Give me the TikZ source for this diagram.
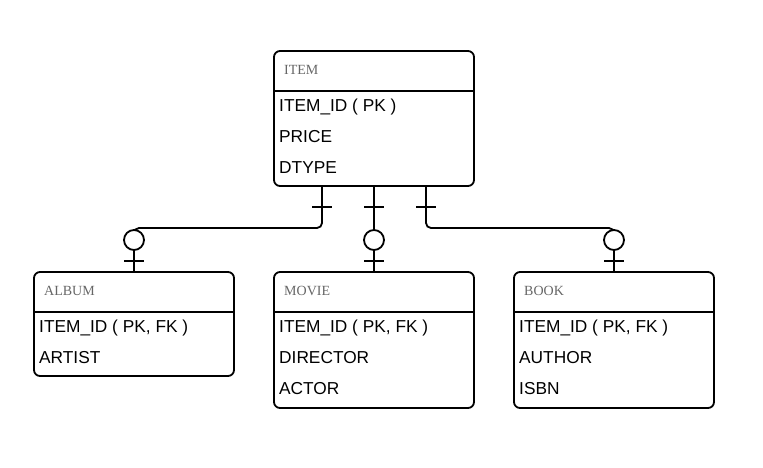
\documentclass[tikz,border=0pt]{standalone}
\usepackage{fontspec}
\setmainfont{Liberation Sans}
\newfontfamily\headfont{Liberation Serif}
\usetikzlibrary{positioning}

\begin{document}
\begin{tikzpicture}[x=1pt, y=-1pt,
  entity/.style={draw, line width=1.8pt, rounded corners=6pt, inner sep=0pt, minimum width=200pt},
  divider/.style={line width=1.8pt},
  header/.style={anchor=base west, inner sep=0pt, text=black!60, font=\headfont\fontsize{14}{16}\selectfont},
  field/.style={anchor=base west, inner sep=0pt, font=\fontsize{17.3}{20}\selectfont},
  link/.style={line width=1.8pt, rounded corners=5pt},
  bar/.style={line width=1.8pt},
  optional/.style={draw, circle, line width=1.8pt, fill=white, inner sep=0pt, minimum size=20pt}]

\useasboundingbox (0,0) rectangle (763,467);

% entities
\node[entity, minimum height=135pt] (item) at (374,118.5) {};
\node[entity, minimum height=104pt] (album) at (134,324) {};
\node[entity, minimum height=136pt] (movie) at (374,340) {};
\node[entity, minimum height=136pt] (book) at (614,340) {};

\draw[divider] (274,91) -- (474,91);
\draw[divider] (34,312) -- (234,312);
\draw[divider] (274,312) -- (474,312);
\draw[divider] (514,312) -- (714,312);

% ITEM
\node[header] (itemhead) at (284,74) {ITEM};
\node[field] (itemid) at (279,111) {ITEM\_ID ( PK )};
\node[field] (itemprice) at (279,142) {PRICE};
\node[field] (itemtype) at (279,173) {DTYPE};

% ALBUM
\node[header] (albumhead) at (44,295) {ALBUM};
\node[field] (albumid) at (39,332) {ITEM\_ID ( PK, FK )};
\node[field] (albumartist) at (39,363) {ARTIST};

% MOVIE
\node[header] (moviehead) at (284,295) {MOVIE};
\node[field] (movieid) at (279,332) {ITEM\_ID ( PK, FK )};
\node[field] (moviedirector) at (279,363) {DIRECTOR};
\node[field] (movieactor) at (279,394) {ACTOR};

% BOOK
\node[header] (bookhead) at (524,295) {BOOK};
\node[field] (bookid) at (519,332) {ITEM\_ID ( PK, FK )};
\node[field] (bookauthor) at (519,363) {AUTHOR};
\node[field] (bookisbn) at (519,394) {ISBN};

% connectors
\coordinate (itemL) at (322,186);
\coordinate (itemR) at (426,186);
\draw[link] (itemL) -- ++(0,42) -| (album.north);
\draw[link] (item.south) -- (movie.north);
\draw[link] (itemR) -- ++(0,42) -| (book.north);

% one side
\draw[bar] (312,207) -- (332,207);
\draw[bar] (364,207) -- (384,207);
\draw[bar] (416,207) -- (436,207);

% zero or one side
\node[optional] (albumopt) at (134,240) {};
\node[optional] (movieopt) at (374,240) {};
\node[optional] (bookopt) at (614,240) {};
\draw[bar] (124,261) -- (144,261);
\draw[bar] (364,261) -- (384,261);
\draw[bar] (604,261) -- (624,261);

\end{tikzpicture}
\end{document}
